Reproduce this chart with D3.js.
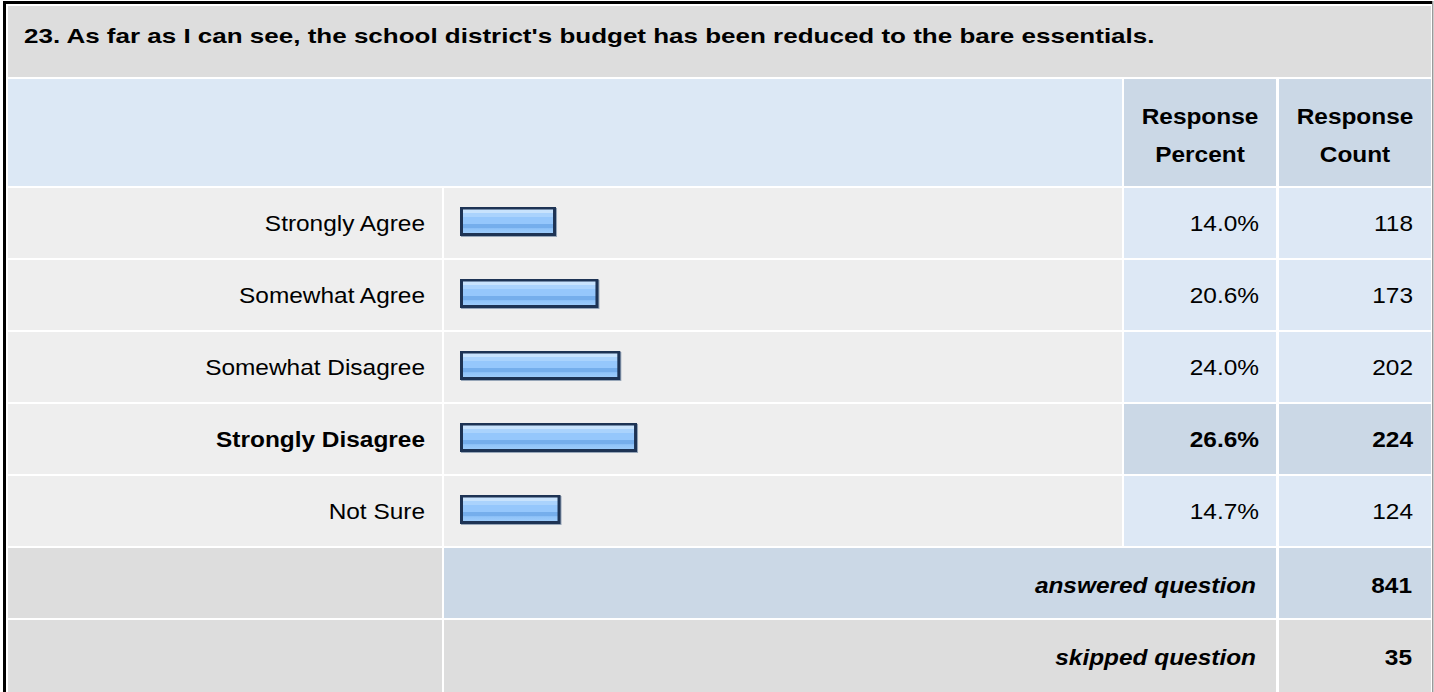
<!DOCTYPE html>
<html>
<head>
<meta charset="utf-8">
<script src="https://cdn.jsdelivr.net/npm/d3@7"></script>
<style>
html,body{margin:0;padding:0;background:#fff;}
svg{display:block;}
text{font-family:"Liberation Sans", Arial, sans-serif;fill:#000;}
</style>
</head>
<body>
<svg id="chart" width="1434" height="692"></svg>
<script>
// ---- data ----
const title = "23. As far as I can see, the school district's budget has been reduced to the bare essentials.";
const categories = ["Strongly Agree", "Somewhat Agree", "Somewhat Disagree", "Strongly Disagree", "Not Sure"];
const percents = [14.0, 20.6, 24.0, 26.6, 14.7];
const counts = [118, 173, 202, 224, 124];
const headerLabels = [["Response", "Percent"], ["Response", "Count"]];
const answeredLabel = "answered question";
const answeredCount = 841;
const skippedLabel = "skipped question";
const skippedCount = 35;

// ---- layout ----
const W = 1434, H = 692;
const svg = d3.select("#chart");
const C = {
  title: "#dddddd", head: "#dce8f5", headDark: "#cbd8e6",
  cell: "#eeeeee", cellBlue: "#dde8f5", gray: "#dddddd"
};
const col = { l0: 8, l1: 442, b0: 444, b1: 1122, p0: 1124, p1: 1276, c0: 1279, c1: 1431 };
const FS = 22, SX = 1.11;

function txt(xp, yp, s, opts) {
  opts = opts || {};
  const t = svg.append("text")
    .attr("transform", `translate(${xp},${yp}) scale(${opts.sx || SX},1)`)
    .attr("text-anchor", opts.anchor || "end")
    .attr("font-size", opts.fs || FS)
    .attr("font-weight", opts.bold ? "bold" : "normal")
    .text(s);
  if (opts.italic) t.attr("font-style", "italic");
  return t;
}

// outer frame
svg.append("rect").attr("x", 0).attr("y", 0).attr("width", W).attr("height", H).attr("fill", "#fff");
svg.append("rect").attr("x", 3).attr("y", 1).attr("width", 1430).attr("height", 3).attr("fill", "#000");
svg.append("rect").attr("x", 3).attr("y", 1).attr("width", 3).attr("height", H).attr("fill", "#000");
svg.append("rect").attr("x", 1432).attr("y", 1).attr("width", 1.5).attr("height", H).attr("fill", "#9a9a9a");

function cell(x0, x1, y0, y1, fill) {
  svg.append("rect").attr("x", x0).attr("y", y0).attr("width", x1 - x0).attr("height", y1 - y0).attr("fill", fill);
}

// title row
cell(col.l0, col.c1, 6, 77, C.title);
txt(24, 43, title, { anchor: "start", bold: true, fs: 20, sx: 1.3 });

// header row
const hy0 = 79, hy1 = 186;
cell(col.l0, col.b1, hy0, hy1, C.head);
cell(col.p0, col.p1, hy0, hy1, C.headDark);
cell(col.c0, col.c1, hy0, hy1, C.headDark);
[[col.p0, col.p1], [col.c0, col.c1]].forEach((c, i) => {
  headerLabels[i].forEach((t, j) => {
    txt((c[0] + c[1]) / 2, 124 + j * 38, t, { anchor: "middle", bold: true });
  });
});

// rows
const y = d3.scaleBand().domain(categories).range([188, 546]).paddingInner(2 / 72);
const x = d3.scaleLinear().domain([0, 100]).range([0, 643]);
const maxP = d3.max(percents);

const defs = svg.append("defs");
const grad = defs.append("linearGradient").attr("id", "barGrad").attr("x1", 0).attr("y1", 0).attr("x2", 0).attr("y2", 1);
[[0, "#c8e3fd"], [0.13, "#c8e3fd"], [0.14, "#aad3fd"], [0.3, "#aad3fd"], [0.31, "#95c7fc"],
 [0.6, "#95c7fc"], [0.61, "#75aeec"], [0.8, "#75aeec"], [0.81, "#8fc3f9"], [1, "#9ccbfa"]]
  .forEach(s => grad.append("stop").attr("offset", s[0]).attr("stop-color", s[1]));

categories.forEach((cat, i) => {
  const y0 = y(cat), y1 = y0 + y.bandwidth();
  const isMax = percents[i] === maxP;
  cell(col.l0, col.l1, y0, y1, C.cell);
  cell(col.b0, col.b1, y0, y1, C.cell);
  cell(col.p0, col.p1, y0, y1, isMax ? C.headDark : C.cellBlue);
  cell(col.c0, col.c1, y0, y1, isMax ? C.headDark : C.cellBlue);
  const base = y0 + 43;
  txt(col.l1 - 17, base, cat, { bold: isMax });
  txt(col.p1 - 17, base, percents[i].toFixed(1) + "%", { bold: isMax });
  txt(col.c1 - 18, base, counts[i], { bold: isMax });
  // bar
  const bx = 460, by = y0 + 19, bw = x(percents[i]) + 6, bh = 29;
  svg.append("rect").attr("x", bx + 1).attr("y", by + 1).attr("width", bw).attr("height", bh).attr("fill", "#97a6b8");
  svg.append("rect").attr("x", bx).attr("y", by).attr("width", bw).attr("height", bh).attr("fill", "#1d3354");
  svg.append("rect").attr("x", bx + 3).attr("y", by + 2.5).attr("width", bw - 6).attr("height", bh - 5.5).attr("fill", "url(#barGrad)");
});

// answered row
const ay0 = 548, ay1 = 618;
cell(col.l0, col.l1, ay0, ay1, C.gray);
cell(col.b0, col.p1, ay0, ay1, C.headDark);
cell(col.c0, col.c1, ay0, ay1, C.headDark);
txt(col.p1 - 20, ay0 + 45, answeredLabel, { bold: true, italic: true });
txt(col.c1 - 19, ay0 + 45, answeredCount, { bold: true });

// skipped row (continues past the bottom edge of the picture)
const sy0 = 620, sy1 = H;
cell(col.l0, col.l1, sy0, sy1, C.gray);
cell(col.b0, col.p1, sy0, sy1, C.gray);
cell(col.c0, col.c1, sy0, sy1, C.gray);
txt(col.p1 - 20, sy0 + 45, skippedLabel, { bold: true, italic: true });
txt(col.c1 - 19, sy0 + 45, skippedCount, { bold: true });
</script>
</body>
</html>
